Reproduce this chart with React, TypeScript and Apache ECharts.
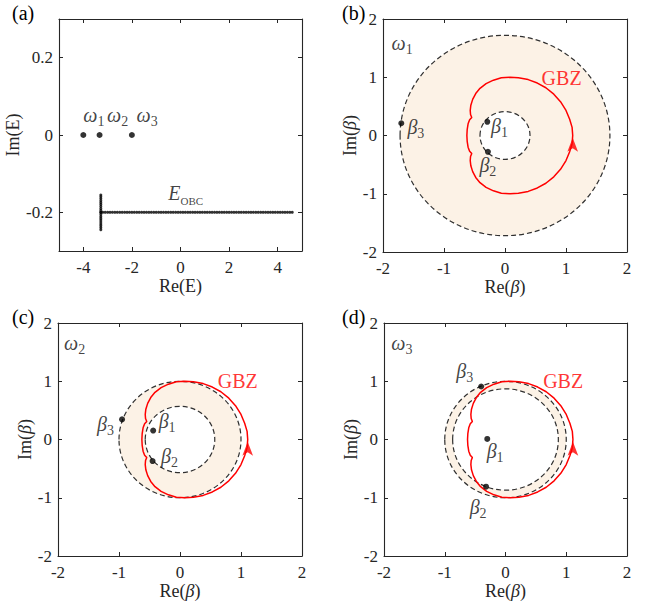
import React, { useEffect, useRef } from "react";
import * as echarts from "echarts";

const SERIF = '"Liberation Serif", "Times New Roman", serif';
const AXIS_COLOR = "#262626";
const FILL = "#FCF2E6";
const RED = "#FF0000";

// ---------- panel (a) data ----------
const omegaRe = [-4.0, -3.33, -2.0];
const omegaIm = [0, 0, 0];
const omegaLabels = ["1", "2", "3"];
const omegaLabelRe = [-4.0, -3.02, -1.81];
const omegaLabelIm = 0.052;
const obcLineIm = -0.2;
const obcLineRe = [
  -3.28, -3.2, -3.1, -3.0, -2.9, -2.8, -2.7, -2.6, -2.5, -2.4, -2.3, -2.2, -2.1, -2.0,
  -1.9, -1.8, -1.7, -1.6, -1.5, -1.4, -1.3, -1.2, -1.1, -1.0, -0.9, -0.8, -0.7, -0.6,
  -0.5, -0.4, -0.3, -0.2, -0.1, 0.0, 0.1, 0.2, 0.3, 0.4, 0.5, 0.6, 0.7, 0.8, 0.9, 1.0,
  1.1, 1.2, 1.3, 1.4, 1.5, 1.6, 1.7, 1.8, 1.9, 2.0, 2.1, 2.2, 2.3, 2.4, 2.5, 2.6, 2.7,
  2.8, 2.9, 3.0, 3.1, 3.2, 3.3, 3.4, 3.5, 3.6, 3.7, 3.8, 3.9, 4.0, 4.1, 4.2, 4.3, 4.4,
  4.5, 4.6,
];
const obcBranchRe = -3.28;
const obcBranchIm = [
  -0.245, -0.24, -0.235, -0.23, -0.225, -0.22, -0.215, -0.21, -0.205, -0.2, -0.195,
  -0.19, -0.185, -0.18, -0.175, -0.17, -0.165, -0.16, -0.155,
];
const obcLabelPos = [-0.5, -0.15];

// ---------- GBZ curve (same in b, c, d) ----------
const gbzRe = [
  1.11, 1.1, 1.06, 1.0, 0.91, 0.8, 0.67, 0.53, 0.38, 0.22, 0.08, -0.06, -0.19, -0.31,
  -0.41, -0.48, -0.53, -0.56, -0.57, -0.565, -0.545, -0.58, -0.605, -0.62, -0.625,
  -0.62, -0.605, -0.58, -0.545, -0.565, -0.57, -0.56, -0.53, -0.48, -0.41, -0.31,
  -0.19, -0.06, 0.08, 0.22, 0.38, 0.53, 0.67, 0.8, 0.91, 1.0, 1.06, 1.1, 1.11,
];
const gbzIm = [
  0.0, 0.14, 0.28, 0.43, 0.58, 0.71, 0.82, 0.9, 0.96, 0.99, 1.0, 0.99, 0.95, 0.89,
  0.81, 0.72, 0.62, 0.52, 0.43, 0.36, 0.31, 0.27, 0.2, 0.1, 0.0, -0.1, -0.2, -0.27,
  -0.31, -0.36, -0.43, -0.52, -0.62, -0.72, -0.81, -0.89, -0.95, -0.99, -1.0, -0.99,
  -0.96, -0.9, -0.82, -0.71, -0.58, -0.43, -0.28, -0.14, 0.0,
];
const arrowPos = [1.11, -0.04];

// ---------- panels (b), (c), (d) ----------
const ringRadiiB = [1.72, 0.41];
const ringRadiiC = [1.0, 0.57];
const ringRadiiD = [1.0, 0.87];

const betaRe_B = [-0.29, -0.28, -1.7];
const betaIm_B = [0.235, -0.28, 0.21];
const betaRe_C = [-0.44, -0.45, -0.95];
const betaIm_C = [0.154, -0.37, 0.345];
const betaRe_D = [-0.3, -0.32, -0.4];
const betaIm_D = [0.01, -0.81, 0.91];

const betaLabelRe_B = [-0.23, -0.42, -1.6];
const betaLabelIm_B = [0.17, -0.5, 0.15];
const betaLabelRe_C = [-0.35, -0.31, -1.36];
const betaLabelIm_C = [0.31, -0.28, 0.26];
const betaLabelRe_D = [-0.31, -0.59, -0.81];
const betaLabelIm_D = [-0.19, -1.16, 1.17];

const omegaTagRe = [-1.86, -1.9, -1.88];
const omegaTagIm = [1.58, 1.66, 1.66];
const gbzLabelRe = [0.6, 0.62, 0.62];
const gbzLabelIm = [0.98, 1.0, 1.0];

const aXTicks = [-4, -2, 0, 2, 4];
const aYTicks = [-0.2, 0, 0.2];

const grids = [
  { left: 59, top: 19, width: 243, height: 232 },
  { left: 383, top: 19, width: 244, height: 233 },
  { left: 58, top: 323, width: 244, height: 233 },
  { left: 384, top: 323, width: 243, height: 233 },
];

const richStyles = {
  i: { fontFamily: SERIF, fontStyle: "italic", fontSize: 20, lineHeight: 27, color: "#111" },
  s: { fontFamily: SERIF, fontSize: 14, lineHeight: 14, verticalAlign: "bottom", color: "#111" },
  E: { fontFamily: SERIF, fontStyle: "italic", fontSize: 20, lineHeight: 26, color: "#111" },
  o: { fontFamily: SERIF, fontSize: 11, lineHeight: 12, verticalAlign: "bottom", color: "#111" },
  r: { fontFamily: SERIF, fontSize: 20, lineHeight: 26, color: RED },
};

function makeAxes(i: number, isA: boolean) {
  const tickStyle = { show: true, inside: true, length: 4, lineStyle: { color: AXIS_COLOR, width: 1 } };
  const lineStyle = { show: true, onZero: false, lineStyle: { color: AXIS_COLOR, width: 1.1 } };
  const labelBase = { color: AXIS_COLOR, fontFamily: SERIF, fontSize: 17, showMinLabel: true, showMaxLabel: true };
  const nameStyle = {
    fontFamily: SERIF,
    fontSize: 18,
    color: AXIS_COLOR,
    rich: { g: { fontFamily: SERIF, fontSize: 18, fontStyle: "italic", color: AXIS_COLOR } },
  };
  const xRange = isA ? { min: -5, max: 5 } : { min: -2, max: 2, interval: 1 };
  const yRange = isA ? { min: -0.3, max: 0.3 } : { min: -2, max: 2, interval: 1 };
  const xTickExtra = isA ? { customValues: aXTicks } : {};
  const yTickExtra = isA ? { customValues: aYTicks } : {};
  const xs = [
    {
      type: "value", gridIndex: i, position: "bottom", ...xRange,
      axisLine: lineStyle, axisTick: { ...tickStyle, ...xTickExtra },
      axisLabel: { ...labelBase, margin: 8, ...xTickExtra }, splitLine: { show: false },
      name: isA ? "Re(E)" : "Re({g|β})", nameLocation: "middle", nameGap: 25, nameTextStyle: nameStyle,
    },
    {
      type: "value", gridIndex: i, position: "top", ...xRange,
      axisLine: lineStyle, axisTick: { ...tickStyle, ...xTickExtra },
      axisLabel: { show: false }, splitLine: { show: false },
    },
  ];
  const ys = [
    {
      type: "value", gridIndex: i, position: "left", ...yRange,
      axisLine: lineStyle, axisTick: { ...tickStyle, ...yTickExtra },
      axisLabel: { ...labelBase, margin: 6, ...yTickExtra }, splitLine: { show: false },
      name: isA ? "Im(E)" : "Im({g|β})", nameLocation: "middle", nameGap: isA ? 29 : 21, nameTextStyle: nameStyle,
    },
    {
      type: "value", gridIndex: i, position: "right", ...yRange,
      axisLine: lineStyle, axisTick: { ...tickStyle, ...yTickExtra },
      axisLabel: { show: false }, splitLine: { show: false },
    },
  ];
  return { xs, ys };
}

function labelSeries(axisIdx: number, items: { value: number[]; name: string }[]) {
  return {
    type: "scatter",
    xAxisIndex: axisIdx,
    yAxisIndex: axisIdx,
    symbolSize: 0,
    z: 10,
    silent: true,
    data: items,
    label: {
      show: true,
      position: "right",
      distance: 0,
      formatter: (p: any) => p.name,
      rich: richStyles,
    },
  };
}

function ringRenderItem(params: any, api: any) {
  const c = api.coord([api.value(0), api.value(1)]);
  const ro = api.size([api.value(2), api.value(2)]);
  const ri = api.size([api.value(3), api.value(3)]);
  const dash = { fill: "none", stroke: "#303030", lineWidth: 1.2, lineDash: [5, 3] };
  return {
    type: "group",
    children: [
      { type: "ellipse", shape: { cx: c[0], cy: c[1], rx: ro[0], ry: ro[1] }, style: { fill: FILL } },
      { type: "ellipse", shape: { cx: c[0], cy: c[1], rx: ri[0], ry: ri[1] }, style: { fill: "#fff" } },
      { type: "ellipse", shape: { cx: c[0], cy: c[1], rx: ro[0], ry: ro[1] }, style: dash },
      { type: "ellipse", shape: { cx: c[0], cy: c[1], rx: ri[0], ry: ri[1] }, style: dash },
    ],
  };
}

function betaPanelSeries(
  p: number,
  radii: number[],
  bRe: number[],
  bIm: number[],
  lRe: number[],
  lIm: number[]
) {
  const ax = p * 2;
  const gbzData = gbzRe.map((x, k) => [x, gbzIm[k]]);
  return [
    {
      type: "custom",
      xAxisIndex: ax,
      yAxisIndex: ax,
      z: 1,
      silent: true,
      renderItem: ringRenderItem,
      data: [[0, 0, radii[0], radii[1]]],
    },
    {
      type: "line",
      xAxisIndex: ax,
      yAxisIndex: ax,
      z: 3,
      showSymbol: false,
      symbol: "none",
      smooth: false,
      lineStyle: { color: RED, width: 1.5 },
      data: gbzData,
      silent: true,
    },
    {
      type: "scatter",
      xAxisIndex: ax,
      yAxisIndex: ax,
      z: 4,
      symbol: "arrow",
      symbolSize: [8, 14],
      itemStyle: { color: RED },
      data: [arrowPos],
      silent: true,
    },
    {
      type: "scatter",
      xAxisIndex: ax,
      yAxisIndex: ax,
      z: 5,
      symbolSize: 6,
      itemStyle: { color: "#000" },
      data: bRe.map((x, k) => [x, bIm[k]]),
      silent: true,
    },
    labelSeries(ax, [
      { value: [lRe[0], lIm[0]], name: "{i|β}{s|1}" },
      { value: [lRe[1], lIm[1]], name: "{i|β}{s|2}" },
      { value: [lRe[2], lIm[2]], name: "{i|β}{s|3}" },
      { value: [omegaTagRe[p - 1], omegaTagIm[p - 1]], name: `{i|ω}{s|${omegaLabels[p - 1]}}` },
      { value: [gbzLabelRe[p - 1], gbzLabelIm[p - 1]], name: "{r|GBZ}" },
    ]),
  ];
}

export default function App() {
  const ref = useRef<HTMLDivElement>(null);
  useEffect(() => {
    if (!ref.current) return;
    const chart = echarts.init(ref.current, undefined, { renderer: "svg" });
    const xAxes: any[] = [];
    const yAxes: any[] = [];
    for (let i = 0; i < 4; i++) {
      const { xs, ys } = makeAxes(i, i === 0);
      xAxes.push(...xs);
      yAxes.push(...ys);
    }
    const panelA = [
      {
        type: "scatter",
        xAxisIndex: 0,
        yAxisIndex: 0,
        symbolSize: 3,
        itemStyle: { color: "#000" },
        data: obcLineRe.map((x) => [x, obcLineIm]),
        silent: true,
      },
      {
        type: "scatter",
        xAxisIndex: 0,
        yAxisIndex: 0,
        symbolSize: 3,
        itemStyle: { color: "#000" },
        data: obcBranchIm.map((y) => [obcBranchRe, y]),
        silent: true,
      },
      {
        type: "scatter",
        xAxisIndex: 0,
        yAxisIndex: 0,
        symbolSize: 6,
        itemStyle: { color: "#000" },
        data: omegaRe.map((x, k) => [x, omegaIm[k]]),
        silent: true,
      },
      labelSeries(0, [
        ...omegaLabelRe.map((x, k) => ({ value: [x, omegaLabelIm], name: `{i|ω}{s|${omegaLabels[k]}}` })),
        { value: obcLabelPos, name: "{E|E}{o|OBC}" },
      ]),
    ];
    const series = [
      ...panelA,
      ...betaPanelSeries(1, ringRadiiB, betaRe_B, betaIm_B, betaLabelRe_B, betaLabelIm_B),
      ...betaPanelSeries(2, ringRadiiC, betaRe_C, betaIm_C, betaLabelRe_C, betaLabelIm_C),
      ...betaPanelSeries(3, ringRadiiD, betaRe_D, betaIm_D, betaLabelRe_D, betaLabelIm_D),
    ];
    const panelTags = [
      { t: "(a)", left: 12, top: 3 },
      { t: "(b)", left: 342, top: 3 },
      { t: "(c)", left: 12, top: 307 },
      { t: "(d)", left: 342, top: 307 },
    ];
    chart.setOption({
      animation: false,
      backgroundColor: "#fff",
      grid: grids,
      xAxis: xAxes,
      yAxis: yAxes,
      series,
      graphic: panelTags.map((g) => ({
        type: "text",
        left: g.left,
        top: g.top,
        style: { text: g.t, font: `20px ${SERIF}`, fill: "#000" },
      })),
    });
    return () => chart.dispose();
  }, []);
  return (
    <div
      ref={ref}
      style={{ position: "fixed", left: 0, top: 0, width: 652, height: 612 }}
    />
  );
}
